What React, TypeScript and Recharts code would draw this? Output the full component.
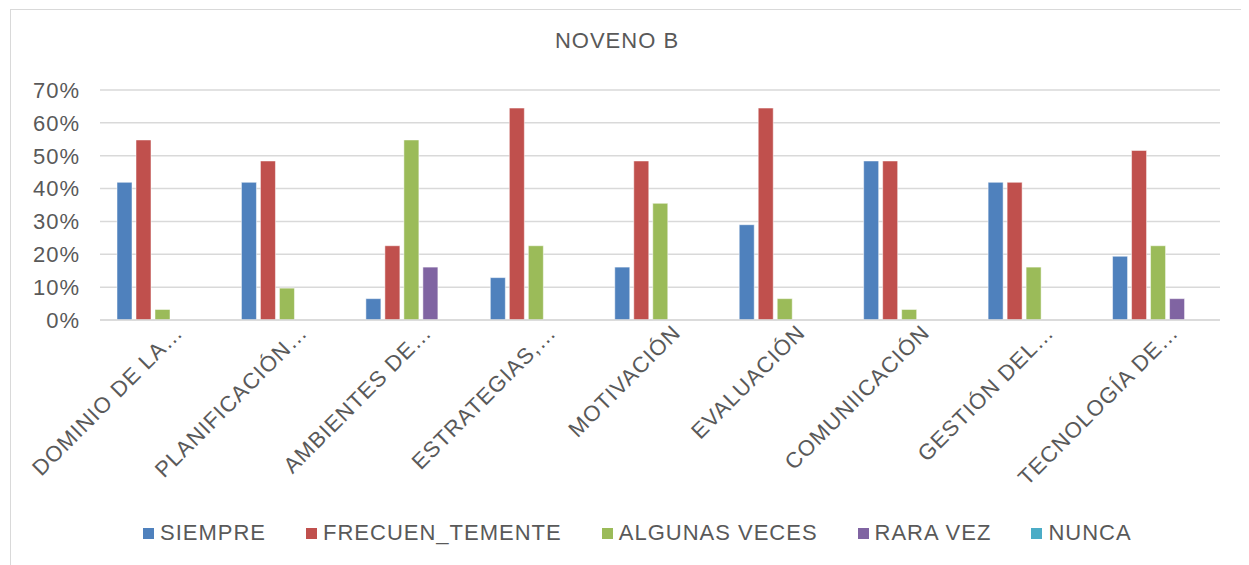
import React from 'react';
import { BarChart, Bar, XAxis, YAxis, CartesianGrid, Legend } from 'recharts';

const categories = [
  'DOMINIO DE LA…',
  'PLANIFICACIÓN…',
  'AMBIENTES DE…',
  'ESTRATEGIAS,…',
  'MOTIVACIÓN',
  'EVALUACIÓN',
  'COMUNIICACIÓN',
  'GESTIÓN DEL…',
  'TECNOLOGÍA DE…',
];

const siempre = [0.419, 0.419, 0.065, 0.129, 0.161, 0.29, 0.484, 0.419, 0.194];
const frecuentemente = [0.548, 0.484, 0.226, 0.645, 0.484, 0.645, 0.484, 0.419, 0.516];
const algunasVeces = [0.032, 0.097, 0.548, 0.226, 0.355, 0.065, 0.032, 0.161, 0.226];
const raraVez = [0, 0, 0.161, 0, 0, 0, 0, 0, 0.065];
const nunca = [0, 0, 0, 0, 0, 0, 0, 0, 0];

const yTicks = [0, 0.1, 0.2, 0.3, 0.4, 0.5, 0.6, 0.7];

const series = [
  { key: 'SIEMPRE', values: siempre, color: '#4F81BD' },
  { key: 'FRECUEN_TEMENTE', values: frecuentemente, color: '#C0504D' },
  { key: 'ALGUNAS VECES', values: algunasVeces, color: '#9BBB59' },
  { key: 'RARA VEZ', values: raraVez, color: '#8064A2' },
  { key: 'NUNCA', values: nunca, color: '#4BACC6' },
];

const data = categories.map((name, i) => {
  const row: Record<string, string | number> = { name };
  series.forEach((s) => {
    row[s.key] = s.values[i];
  });
  return row;
});

const FONT = '"Liberation Sans", Arial, sans-serif';
const TEXT = '#595959';

const AngledTick = (props: any) => {
  const { x, y, payload } = props;
  return (
    <g transform={`translate(${x + 22},${y + 6})`}>
      <text
        transform="rotate(-45)"
        textAnchor="end"
        fill={TEXT}
        fontSize={22}
        letterSpacing={1}
        fontFamily={FONT}
      >
        {payload.value}
      </text>
    </g>
  );
};

const LegendContent = () => (
  <div
    style={{
      display: 'flex',
      justifyContent: 'flex-start',
      alignItems: 'center',
      height: 50,
      paddingLeft: 132,
      fontFamily: FONT,
      fontSize: 22,
      letterSpacing: 1,
      color: TEXT,
    }}
  >
    {series.map((s) => (
      <div key={s.key} style={{ display: 'flex', alignItems: 'center', marginRight: 40 }}>
        <span style={{ width: 11, height: 11, background: s.color, marginRight: 6, display: 'inline-block' }} />
        <span>{s.key}</span>
      </div>
    ))}
  </div>
);

const App = () => {
  return (
    <div style={{ paddingTop: 1, paddingLeft: 2 }}>
      <div
        style={{
          position: 'relative',
          width: 1236,
          height: 560,
          border: '1px solid #d9d9d9',
          boxSizing: 'border-box',
          background: '#fff',
        }}
      >
        <div
          style={{
            position: 'absolute',
            top: 18,
            left: -11,
            width: '100%',
            textAlign: 'center',
            fontFamily: FONT,
            fontSize: 22,
            letterSpacing: 1,
            color: TEXT,
          }}
        >
          NOVENO B
        </div>
        <BarChart
          width={1234}
          height={558}
          data={data}
          margin={{ top: 80, right: 25, bottom: 10, left: 0 }}
          barSize={15}
          barGap={4}
        >
          <CartesianGrid vertical={false} stroke="#d9d9d9" strokeWidth={1.5} />
          <XAxis
            dataKey="name"
            interval={0}
            height={188}
            tick={<AngledTick />}
            tickLine={false}
            axisLine={{ stroke: '#d9d9d9', strokeWidth: 1.5 }}
          />
          <YAxis
            width={89}
            domain={[0, 0.7]}
            ticks={yTicks}
            tickFormatter={(v: number) => `${Math.round(v * 100)}%`}
            tick={{ fill: TEXT, fontSize: 22, fontFamily: FONT, letterSpacing: 1 }}
            tickLine={false}
            axisLine={false}
            tickSize={0}
            tickMargin={20}
          />
          <Legend verticalAlign="bottom" height={50} content={<LegendContent />} />
          {series.map((s) => (
            <Bar
              key={s.key}
              dataKey={s.key}
              fill={s.color}
              stroke="#ffffff"
              strokeWidth={0.5}
              isAnimationActive={false}
            />
          ))}
        </BarChart>
      </div>
    </div>
  );
};

export default App;
